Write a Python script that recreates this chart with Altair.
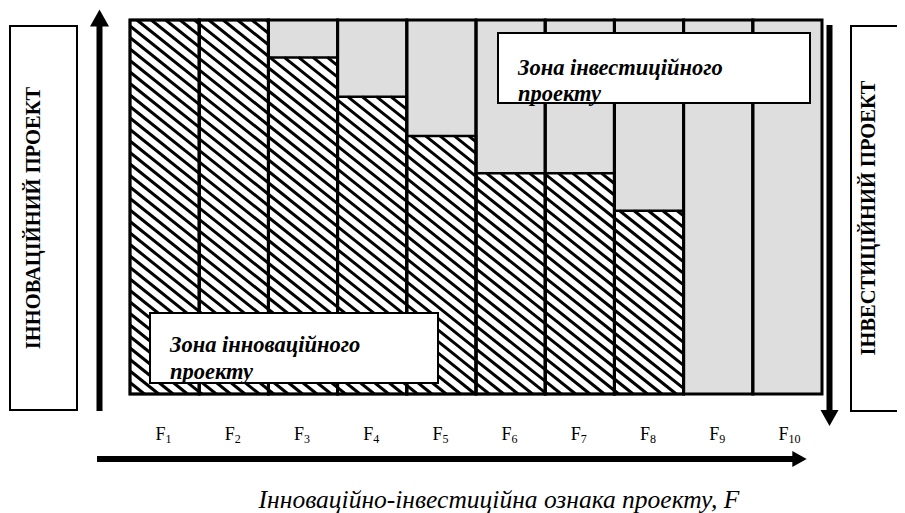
import altair as alt
import pandas as pd
import numpy as np

# ---- data ----
subscripts = ["1", "2", "3", "4", "5", "6", "7", "8", "9", "10"]
letter = "F"
innovation_share = [100, 100, 90, 79.5, 69, 59, 59, 49, 0, 0]   # hatched (innovation) part, % of column
column_top = 100
left_label = "ІННОВАЦІЙНИЙ ПРОЕКТ"
right_label = "ІНВЕСТИЦІЙНИЙ ПРОЕКТ"
x_title = "Інноваційно-інвестиційна ознака проекту, F"
invest_zone = ["Зона інвестиційного", "проекту"]
innov_zone = ["Зона інноваційного", "проекту"]

# ---- layout ----
W, H = 692, 374
n = len(subscripts)
xs = alt.Scale(domain=[0, n], nice=False, zero=False)
ys = alt.Scale(domain=[0, column_top], nice=False, zero=False)
SERIF = "'Liberation Serif', 'Times New Roman', Tinos, 'DejaVu Serif', serif"

cols = pd.DataFrame({
    "x0": list(range(n)),
    "x1": list(range(1, n + 1)),
    "base": [0] * n,
    "share": innovation_share,
    "top": [column_top] * n,
    "xc": [i + 0.5 for i in range(n)],
    "sub": subscripts,
    "F": [letter] * n,
})
hatched = cols[cols["share"] > 0]

# hatch segments clipped to each hatched column (derived from the data above)
slope = 0.8
step = 11.5
pxx, pxy = W / n, H / column_top
segs = []
for i, v in enumerate(innovation_share):
    if v <= 0:
        continue
    x0, x1, top = i * pxx, (i + 1) * pxx, v * pxy
    kmin = int(np.floor(x0 * slope / step)) - 1
    kmax = int(np.ceil((top + x1 * slope) / step)) + 1
    for k in range(kmin, kmax + 1):
        c = k * step
        a = max(x0, (c - top) / slope)
        b = min(x1, c / slope)
        if b - a > 0.3:
            segs.append({"x": a / pxx, "y": (c - a * slope) / pxy,
                         "x2": b / pxx, "y2": (c - b * slope) / pxy})
segs = pd.DataFrame(segs)

one = pd.DataFrame({"k": [0]})

def X(f):
    return alt.X(f, scale=xs, axis=None)

def Y(f):
    return alt.Y(f, scale=ys, axis=None)

gray = alt.Chart(cols).mark_rect(fill="#dedede", strokeWidth=0).encode(
    x=X("x0:Q"), x2="x1:Q", y=Y("base:Q"), y2="top:Q")
white = alt.Chart(hatched).mark_rect(fill="white", strokeWidth=0).encode(
    x=X("x0:Q"), x2="x1:Q", y=Y("base:Q"), y2="share:Q")
hatch = alt.Chart(segs).mark_rule(color="black", strokeWidth=3).encode(
    x=X("x:Q"), x2="x2:Q", y=Y("y:Q"), y2="y2:Q")
hatch_outline = alt.Chart(hatched).mark_rect(fillOpacity=0, stroke="black", strokeWidth=2.5).encode(
    x=X("x0:Q"), x2="x1:Q", y=Y("base:Q"), y2="share:Q")
col_outline = alt.Chart(cols).mark_rect(fillOpacity=0, stroke="black", strokeWidth=3).encode(
    x=X("x0:Q"), x2="x1:Q", y=Y("base:Q"), y2="top:Q")

f_text = alt.Chart(cols).mark_text(font=SERIF, fontSize=18, align="right", baseline="alphabetic",
                                    dx=1, color="black").encode(
    x=X("xc:Q"), y=alt.value(420), text="F:N")
sub_text = alt.Chart(cols).mark_text(font=SERIF, fontSize=12, align="left", baseline="alphabetic",
                                      dx=1, dy=3, color="black").encode(
    x=X("xc:Q"), y=alt.value(420), text="sub:N")

def box(x, x2, y, y2, sw=2):
    return alt.Chart(one).mark_rect(fill="white", stroke="black", strokeWidth=sw).encode(
        x=alt.value(x), x2=alt.value(x2), y=alt.value(y), y2=alt.value(y2))

def label(txt, x, y, **kw):
    return alt.Chart(one).mark_text(text=txt, font=SERIF, color="black", **kw).encode(
        x=alt.value(x), y=alt.value(y))

def shaft(x, x2, y, y2, w=6):
    return alt.Chart(one).mark_rule(color="black", strokeWidth=w).encode(
        x=alt.value(x), x2=alt.value(x2), y=alt.value(y), y2=alt.value(y2))

def head(path, size, x, y):
    return alt.Chart(one).mark_point(shape=path, size=size, filled=True, color="black",
                                     opacity=1, strokeWidth=0).encode(
        x=alt.value(x), y=alt.value(y))

UP = "M-1,0.9L0,-0.9L1,0.9Z"
DOWN = "M-1,-0.9L1,-0.9L0,0.9Z"
RIGHT = "M-0.9,-1L0.9,0L-0.9,1Z"

ZF = 22.5
layers = [
    gray, white, hatch, hatch_outline, col_outline,
    # zone boxes
    box(368, 680, 13, 83),
    label(invest_zone[0], 388, 48, fontSize=ZF, fontWeight="bold", fontStyle="italic", align="left"),
    label(invest_zone[1], 388, 74, fontSize=ZF, fontWeight="bold", fontStyle="italic", align="left"),
    box(20, 308, 293, 363),
    label(innov_zone[0], 40, 325, fontSize=ZF, fontWeight="bold", fontStyle="italic", align="left"),
    label(innov_zone[1], 40, 352, fontSize=ZF, fontWeight="bold", fontStyle="italic", align="left"),
    # side boxes with vertical titles
    box(-120, -53, 6, 390),
    label(left_label, -96, 198, fontSize=20.5, fontWeight="bold", angle=270, align="center", baseline="middle"),
    box(721, 800, 6, 391),
    label(right_label, 739, 198, fontSize=20.5, fontWeight="bold", angle=270, align="center", baseline="middle"),
    # arrows
    shaft(-30.5, -30.5, 2, 391),
    head(UP, 361, -30.5, -2),
    shaft(699.5, 699.5, 5, 391),
    head(DOWN, 324, 699.5, 398),
    shaft(-33, 664, 439, 439),
    head(RIGHT, 256, 669.5, 439),
    # x labels and title
    f_text, sub_text,
    label(x_title, 369, 488, fontSize=25.5, fontStyle="italic", align="center", baseline="alphabetic"),
]

chart = alt.layer(*layers).properties(
    width=W, height=H,
    autosize=alt.AutoSizeParams(type="none"),
    padding={"left": 122, "top": 12, "right": 75, "bottom": 119},
).configure_view(strokeWidth=0)

chart.save("out.html", embed_options={"renderer": "svg", "actions": False})
